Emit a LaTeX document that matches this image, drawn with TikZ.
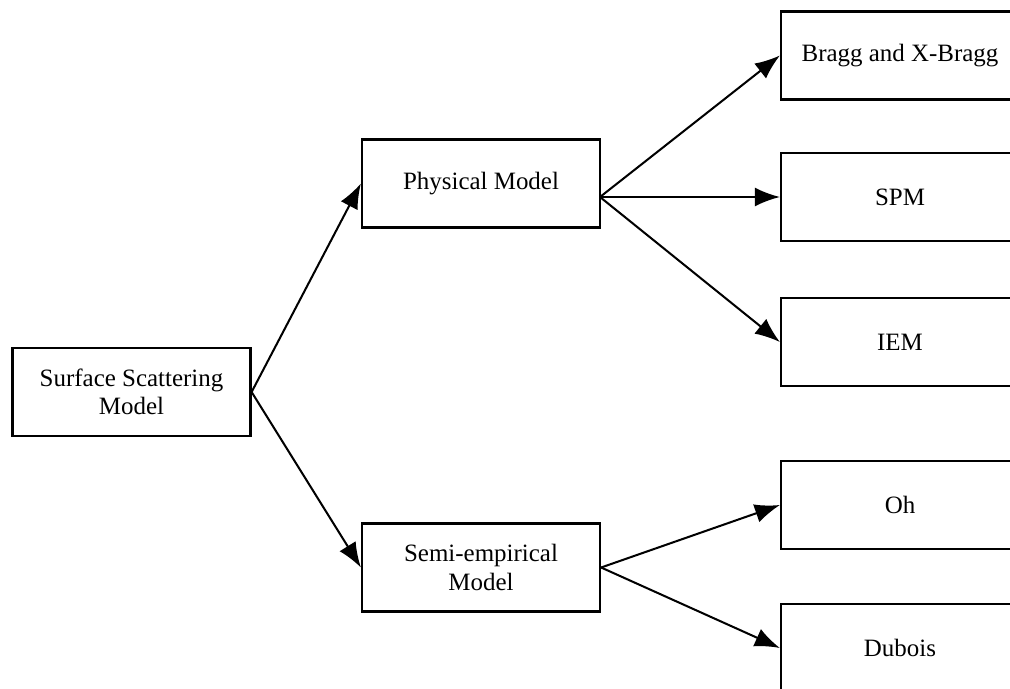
\documentclass[tikz,border=0pt]{standalone}
\usepackage{fontspec}
\setmainfont{Liberation Serif}
\usetikzlibrary{arrows.meta}
\begin{document}
\begin{tikzpicture}[x=0.02cm,y=-0.02cm,
  box/.style={draw,line width=1.3pt,minimum width=4.76cm,minimum height=1.76cm,
    inner sep=0pt,align=center,font=\fontsize{14.2}{16}\selectfont},
  arr/.style={line width=1.15pt,-{Latex[length=0.5cm,width=0.38cm]}}]
\useasboundingbox (0,0) rectangle (1010,689);
\clip (0,0) rectangle (1010,689);
\fill[white] (0,0) rectangle (1010,689);
\node[box] (ssm) at (131.5,392) {Surface Scattering\\Model};
\node[box] (pm) at (481,183.5) {Physical Model};
\node[box] (sem) at (481,567.5) {Semi-empirical\\Model};
\node[box] (bragg) at (900,55.5) {Bragg and X-Bragg};
\node[box] (spm) at (900,197) {SPM};
\node[box] (iem) at (900,342) {IEM};
\node[box] (oh) at (900,505) {Oh};
\node[box] (dub) at (900,648) {Dubois};
\coordinate (pmout) at (600,197);
\draw[arr] (ssm.east) -- (pm.west);
\draw[arr] (ssm.east) -- (sem.west);
\draw[arr] (pmout) -- (bragg.west);
\draw[arr] (pmout) -- (spm.west);
\draw[arr] (pmout) -- (iem.west);
\draw[arr] (sem.east) -- (oh.west);
\draw[arr] (sem.east) -- (dub.west);
\end{tikzpicture}
\end{document}
